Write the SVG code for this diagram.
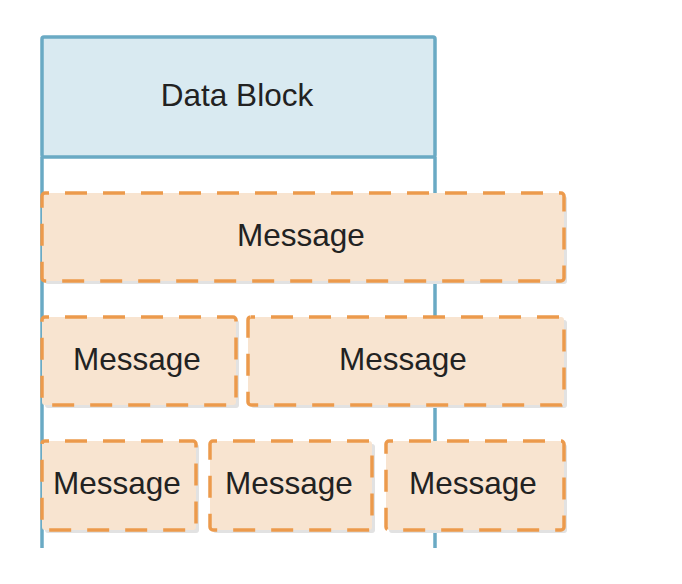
<svg xmlns="http://www.w3.org/2000/svg" width="682" height="584" viewBox="0 0 682 584">
<style>
.blk{fill:#d9eaf1;stroke:#6aaac4;stroke-width:3.5}
.ln{stroke:#6aaac4;stroke-width:3.5;fill:none}
.msg{fill:#f8e4d0;stroke:#ec9a4c;stroke-width:3.5;stroke-dasharray:22 16;stroke-dashoffset:18}
.sh{fill:#e2e2e2}
text{font-family:"Liberation Sans",Arial,sans-serif;font-size:31.5px;fill:#222;text-anchor:middle}
</style>
<rect width="682" height="584" fill="#fff"/>
<g id="connectors">
<line class="ln" x1="42" y1="157" x2="42" y2="548"/>
<line class="ln" x1="435" y1="157" x2="435" y2="548"/>
</g>
<g id="data-block">
<rect class="blk" x="42" y="37" width="393" height="120" rx="2"/>
<text x="237" y="106">Data Block</text>
</g>
<g id="msg1">
<rect class="sh" x="45" y="196" width="522" height="88" rx="3"/>
<rect class="msg" x="42" y="193" width="522" height="88" rx="3"/>
<text x="301" y="246">Message</text>
</g>
<g id="msg2">
<rect class="sh" x="45" y="320" width="194" height="88" rx="3"/>
<rect class="msg" x="42" y="317" width="194" height="88" rx="3"/>
<text x="137" y="370">Message</text>
</g>
<g id="msg3">
<rect class="sh" x="251" y="320" width="316" height="88" rx="3"/>
<rect class="msg" x="248" y="317" width="316" height="88" rx="3"/>
<text x="403" y="370">Message</text>
</g>
<g id="msg4">
<rect class="sh" x="45" y="444" width="154" height="89" rx="3"/>
<rect class="msg" x="42" y="441" width="154" height="89" rx="3"/>
<text x="117" y="494">Message</text>
</g>
<g id="msg5">
<rect class="sh" x="213" y="444" width="162" height="89" rx="3"/>
<rect class="msg" x="210" y="441" width="162" height="89" rx="3"/>
<text x="289" y="494">Message</text>
</g>
<g id="msg6">
<rect class="sh" x="389" y="444" width="178" height="89" rx="3"/>
<rect class="msg" x="386" y="441" width="178" height="89" rx="3"/>
<text x="473" y="494">Message</text>
</g>
</svg>
